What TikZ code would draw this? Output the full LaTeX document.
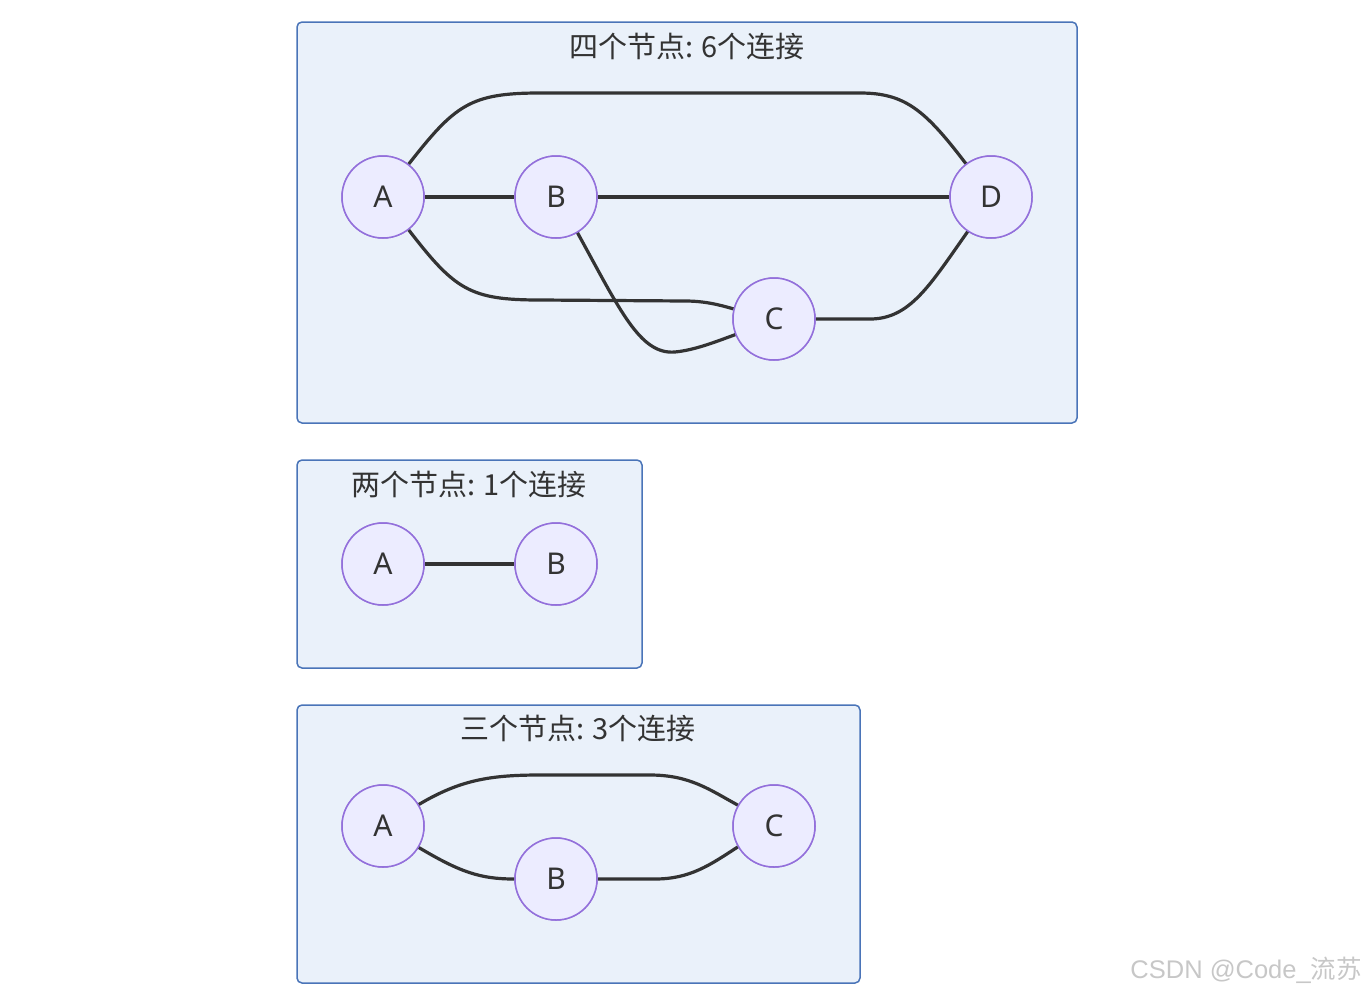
\documentclass[tikz,border=0pt]{standalone}
\usepackage{fontspec}
\setmainfont{Noto Sans CJK SC}
\newfontfamily\latinfont{Noto Sans}
\newfontfamily\wmfont{Liberation Sans}
\definecolor{boxfill}{HTML}{EAF1FA}
\definecolor{boxline}{HTML}{4A74B8}
\definecolor{nodefill}{HTML}{ECECFF}
\definecolor{nodeline}{HTML}{9370DB}
\definecolor{edgecol}{HTML}{333333}
\begin{document}
\begin{tikzpicture}[x=1pt,y=-1pt,
  grp/.style={draw=boxline,fill=boxfill,line width=1.5pt,rounded corners=5pt},
  ttl/.style={font=\fontsize{29}{32}\selectfont,text=edgecol,inner sep=0pt},
  vtx/.style={circle,draw=nodeline,fill=nodefill,line width=1.5pt,minimum size=82pt,inner sep=0pt,font=\latinfont\fontsize{30}{32}\selectfont,text=edgecol},
  edge/.style={draw=edgecol,line width=3.2pt}]
\useasboundingbox (0,0) rectangle (1367,993);
% group 1
\draw[grp] (297,22) rectangle (1077,423);
\node[ttl] (t1) at (687,46) {四个节点: 6个连接};
\node[vtx] (A1) at (383,197) {A};
\node[vtx] (B1) at (556,197) {B};
\node[vtx] (D1) at (991,197) {D};
\node[vtx] (C1) at (774,319) {C};
% group 2
\draw[grp] (297,460) rectangle (642,668);
\node[ttl] (t2) at (469,484) {两个节点: 1个连接};
\node[vtx] (A2) at (383,564) {A};
\node[vtx] (B2) at (556,564) {B};
% group 3
\draw[grp] (297,705) rectangle (860,983);
\node[ttl] (t3) at (578,728) {三个节点: 3个连接};
\node[vtx] (A3) at (383,826) {A};
\node[vtx] (C3) at (774,826) {C};
\node[vtx] (B3) at (556,879) {B};
% edges group 1
\draw[edge] (A1.52) .. controls (455,105) and (470,93) .. (540,93) -- (860,93) .. controls (905,93) and (925,110) .. (D1.127);
\draw[edge] (A1) -- (B1);
\draw[edge] (B1) -- (D1);
\draw[edge] (A1.-52) .. controls (455,290) and (470,300) .. (540,300) -- (685,301) .. controls (705,301) and (720,305) .. (C1.166);
\draw[edge] (B1.-59) .. controls (620,310) and (640,355) .. (675,352) .. controls (695,350) and (715,342) .. (C1.-158);
\draw[edge] (C1.east) -- (870,319) .. controls (910,319) and (930,285) .. (D1.-124);
% group 2
\draw[edge] (A2) -- (B2);
% group 3
\draw[edge] (A3.31) .. controls (460,780) and (490,775) .. (540,775) -- (650,775) .. controls (690,775) and (710,790) .. (C3.150);
\draw[edge] (A3.-31) .. controls (460,872) and (480,879) .. (B3.west);
\draw[edge] (B3.east) -- (655,879) .. controls (690,879) and (710,865) .. (C3.-150);
% redraw nodes over edges
\foreach \n/\x/\y/\l in {A1/383/197/A,B1/556/197/B,D1/991/197/D,C1/774/319/C,A2/383/564/A,B2/556/564/B,A3/383/826/A,C3/774/826/C,B3/556/879/B}
  \node[vtx] at (\x,\y) {\l};
% watermark
\node[font=\wmfont\fontsize{25.5}{28}\selectfont,text=black!22,inner sep=0pt,anchor=east] (wm) at (1362,970) {CSDN @Code\_{\rmfamily 流苏}};
\end{tikzpicture}
\end{document}
